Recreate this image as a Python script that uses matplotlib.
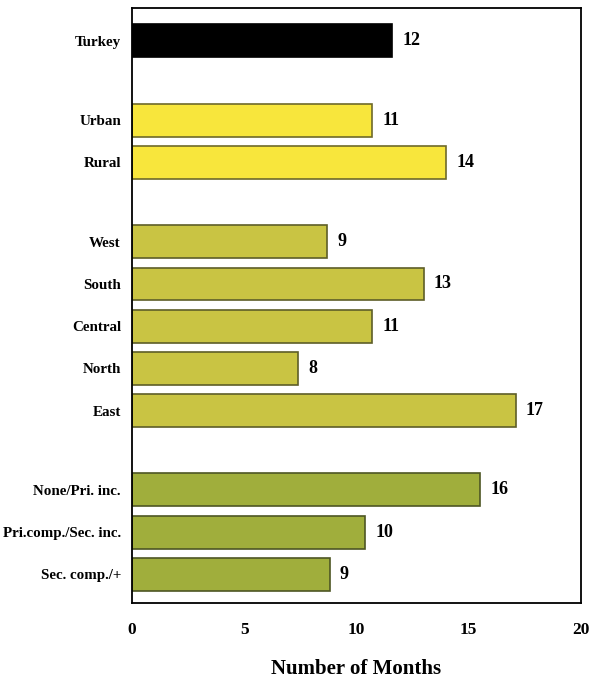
import numpy as np
import matplotlib
matplotlib.use("Agg")
import matplotlib.pyplot as plt

# months; printed labels are the rounded numbers
categories = ["Turkey", "Urban", "Rural", "West", "South", "Central", "North", "East",
              "None/Pri. inc.", "Pri.comp./Sec. inc.", "Sec. comp./+"]
values = [11.6, 10.7, 14.0, 8.7, 13.0, 10.7, 7.4, 17.1, 15.5, 10.4, 8.8]
value_labels = ["12", "11", "14", "9", "13", "11", "8", "17", "16", "10", "9"]
groups = [0, 1, 1, 2, 2, 2, 2, 2, 3, 3, 3]

group_colors = ["#000000", "#F8E63C", "#C9C443", "#A0AE3C"]
group_edges = ["#000000", "#6E6A2A", "#5E5E28", "#4E5624"]

plt.rcParams['font.family'] = ['Liberation Serif', 'DejaVu Serif']

fig = plt.figure(figsize=(5.94, 6.81), dpi=100)
ax = fig.add_axes([132/594, 1 - 603/681, (581-132)/594, (603-8)/681])

gap = 0.88
y = np.arange(len(categories)) + gap * np.array(groups)
colors = [group_colors[g] for g in groups]
edges = [group_edges[g] for g in groups]

ax.barh(y, values, height=0.78, color=colors, edgecolor=edges, linewidth=1.2)
for yi, v, lab in zip(y, values, value_labels):
    ax.text(v + 0.45, yi, lab, va='center', ha='left', fontsize=13, fontweight='bold')

ax.set_xlim(0, 20)
ax.set_ylim(y[-1] + 0.68, -0.78)
ax.set_yticks(y)
ax.set_yticklabels(categories, fontsize=10.8, fontweight='bold')
ax.set_xticks([0, 5, 10, 15, 20])
ax.set_xticklabels(["0", "5", "10", "15", "20"], fontsize=12.5, fontweight='bold')
ax.tick_params(axis='y', length=0, pad=8)
ax.tick_params(axis='x', length=0, pad=14)
for s in ax.spines.values():
    s.set_linewidth(1.3)
ax.set_xlabel("Number of Months", fontsize=15, fontweight='bold', labelpad=15)

fig.savefig("out.png", dpi=100)
